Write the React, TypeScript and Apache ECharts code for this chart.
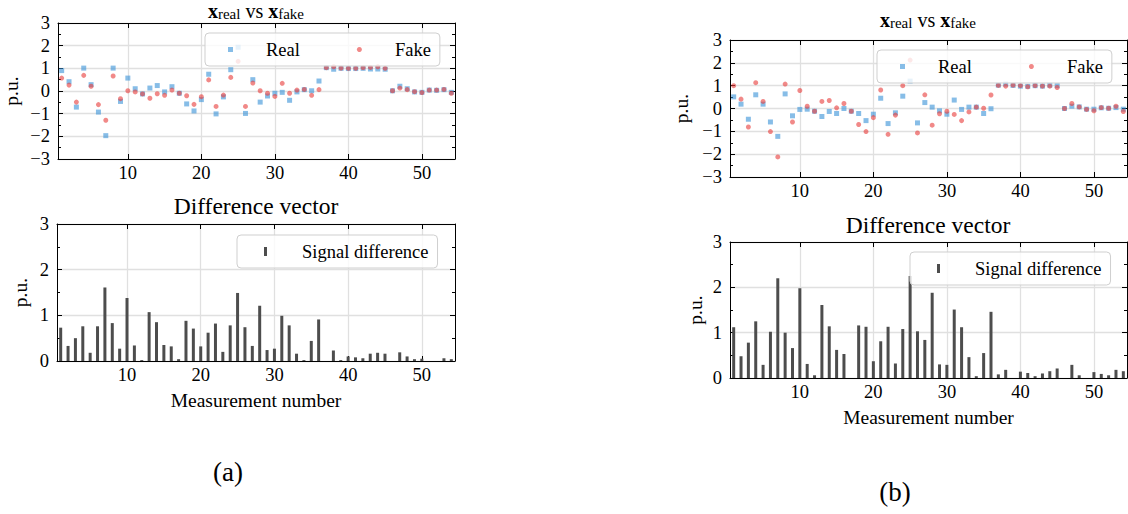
import { useEffect, useRef } from 'react';
import * as echarts from 'echarts';

// Measurement indices shared by every panel
const measurements = [
  1, 2, 3, 4, 5, 6, 7, 8, 9, 10, 11, 12, 13, 14, 15, 16, 17, 18, 19, 20,
  21, 22, 23, 24, 25, 26, 27, 28, 29, 30, 31, 32, 33, 34, 35, 36, 37, 38, 39, 40,
  41, 42, 43, 44, 45, 46, 47, 48, 49, 50, 51, 52, 53, 54,
];

const xTickValues = [10, 20, 30, 40, 50];

// Panel (a)
const realA = [
  0.90, 0.41, -0.71, 1.01, 0.28, -0.93, -1.97, 1.01, -0.46, 0.57,
  0.10, -0.13, 0.13, 0.24, -0.04, 0.19, -0.10, -0.57, -0.88, -0.38,
  0.74, -1.01, -0.26, 0.94, 1.93, -0.99, 0.50, -0.49, -0.22, -0.10,
  -0.06, -0.41, -0.04, 0.06, 0.01, 0.44, 1.03, 0.96, 1.00, 0.99,
  0.99, 1.00, 0.97, 0.97, 0.96, 0.01, 0.21, 0.10, -0.04, -0.06,
  0.04, 0.03, 0.06, -0.06,
];
const fakeA = [
  0.57, 0.26, -0.49, 0.69, 0.21, -0.60, -1.29, 0.66, -0.34, 0.01,
  -0.04, -0.13, -0.32, -0.12, -0.19, 0.04, -0.10, -0.21, -0.59, -0.25,
  0.49, -0.68, -0.18, 0.60, 1.31, -0.68, 0.35, 0.01, -0.10, -0.24,
  0.34, -0.10, 0.04, 0.07, -0.19, 0.06, 1.03, 1.07, 1.01, 1.00,
  1.00, 1.03, 1.04, 1.07, 1.00, 0.01, 0.13, 0.06, -0.03, -0.07,
  0.04, 0.04, 0.07, -0.10,
];
const diffA = [
  0.73, 0.33, 0.50, 0.76, 0.18, 0.76, 1.61, 0.83, 0.27, 1.38,
  0.34, 0.02, 1.07, 0.85, 0.35, 0.32, 0.04, 0.88, 0.71, 0.32,
  0.62, 0.82, 0.20, 0.78, 1.49, 0.74, 0.33, 1.21, 0.24, 0.27,
  0.99, 0.78, 0.16, 0.02, 0.44, 0.91, 0.00, 0.23, 0.02, 0.10,
  0.08, 0.06, 0.16, 0.18, 0.16, 0.00, 0.19, 0.10, 0.04, 0.05,
  0.00, 0.00, 0.06, 0.04,
];

// Panel (b)
const realB = [
  0.51, 0.19, -0.47, 0.60, 0.19, -0.59, -1.22, 0.64, -0.32, -0.04,
  -0.03, -0.12, -0.35, -0.13, -0.22, 0.00, -0.12, -0.22, -0.53, -0.25,
  0.45, -0.66, -0.19, 0.54, 1.20, -0.63, 0.26, 0.06, -0.10, -0.25,
  0.37, -0.04, 0.06, 0.06, -0.22, -0.01, 1.02, 1.07, 1.01, 0.98,
  0.97, 1.00, 0.98, 1.02, 1.00, 0.00, 0.10, 0.07, -0.03, -0.03,
  0.03, 0.01, 0.04, -0.03,
];
const fakeB = [
  1.00, 0.41, -0.81, 1.13, 0.31, -1.01, -2.12, 1.07, -0.59, 0.79,
  0.10, -0.12, 0.31, 0.35, 0.03, 0.22, -0.12, -0.70, -1.01, -0.40,
  0.81, -1.13, -0.29, 1.00, 2.12, -1.07, 0.60, -0.73, -0.23, -0.12,
  -0.26, -0.53, -0.15, 0.06, 0.01, 0.59, 1.01, 0.98, 1.02, 1.00,
  0.95, 1.00, 0.98, 0.98, 0.92, 0.00, 0.22, 0.07, -0.04, -0.10,
  0.04, 0.01, 0.10, -0.13,
];
const diffB = [
  1.12, 0.48, 0.78, 1.25, 0.29, 1.02, 2.20, 1.00, 0.66, 1.98,
  0.31, 0.06, 1.61, 1.14, 0.62, 0.53, 0.00, 1.16, 1.13, 0.37,
  0.81, 1.13, 0.32, 1.08, 2.25, 1.03, 0.84, 1.88, 0.30, 0.29,
  1.51, 1.12, 0.46, 0.04, 0.55, 1.46, 0.08, 0.18, 0.00, 0.14,
  0.11, 0.04, 0.10, 0.15, 0.21, 0.00, 0.29, 0.06, 0.00, 0.13,
  0.09, 0.06, 0.18, 0.15,
];

const FONT = '"Liberation Serif", "Times New Roman", serif';
const TICK_FONT = 18.5;
const GRID_LINE = '#e0e0e0';
const REAL_COLOR = '#3d95d8';
const FAKE_COLOR = '#e8403f';
const BAR_COLOR = '#4d4d4d';

type Panel = {
  grid: { left: number; top: number; width: number; height: number };
  yMin: number;
  yMax: number;
  yNameGap: number;
  xName: string;
};

const panels: Panel[] = [
  { grid: { left: 57, top: 23, width: 398, height: 136 }, yMin: -3, yMax: 3, yNameGap: 37, xName: '' },
  { grid: { left: 57, top: 224, width: 398, height: 137 }, yMin: 0, yMax: 3, yNameGap: 27, xName: 'Measurement number' },
  { grid: { left: 730, top: 40, width: 397, height: 137 }, yMin: -3, yMax: 3, yNameGap: 39, xName: '' },
  { grid: { left: 730, top: 242, width: 397, height: 136 }, yMin: 0, yMax: 3, yNameGap: 25, xName: 'Measurement number' },
];

const pairs = (ys: number[]) => measurements.map((m, i) => [m, ys[i]]);

const minusSign = (v: number) => String(v).replace('-', '\u2212');

function buildOption() {
  const xAxes: any[] = [];
  const yAxes: any[] = [];
  panels.forEach((p, i) => {
    const frame = { show: true, onZero: false, lineStyle: { color: '#000', width: 1 } };
    xAxes.push({
      gridIndex: i,
      type: 'value',
      min: 0.5,
      max: 54.5,
      position: 'bottom',
      axisLine: frame,
      axisTick: { show: true, inside: true, length: 5, customValues: xTickValues, lineStyle: { color: '#000' } },
      axisLabel: { show: true, customValues: xTickValues, margin: 4, color: '#000', fontFamily: FONT, fontSize: TICK_FONT },
      splitLine: { show: true, lineStyle: { color: GRID_LINE, width: 1.3 } },
      name: p.xName,
      nameLocation: 'middle',
      nameGap: 29,
      nameTextStyle: { color: '#000', fontFamily: FONT, fontSize: 19.5 },
    });
    xAxes.push({
      gridIndex: i,
      type: 'value',
      min: 0.5,
      max: 54.5,
      position: 'top',
      axisLine: frame,
      axisTick: { show: true, inside: true, length: 5, customValues: xTickValues, lineStyle: { color: '#000' } },
      axisLabel: { show: false },
      splitLine: { show: false },
    });
    yAxes.push({
      gridIndex: i,
      type: 'value',
      min: p.yMin,
      max: p.yMax,
      interval: 1,
      position: 'left',
      axisLine: frame,
      axisTick: { show: true, inside: true, length: 5, lineStyle: { color: '#000' } },
      minorTick: { show: true, splitNumber: 2, length: 3, lineStyle: { color: '#000' } },
      axisLabel: { margin: 8, color: '#000', fontFamily: FONT, fontSize: TICK_FONT, formatter: minusSign },
      splitLine: { show: true, lineStyle: { color: GRID_LINE, width: 1.3 } },
      name: 'p.u.',
      nameLocation: 'middle',
      nameGap: p.yNameGap,
      nameTextStyle: { color: '#000', fontFamily: FONT, fontSize: 19.5 },
    });
    yAxes.push({
      gridIndex: i,
      type: 'value',
      min: p.yMin,
      max: p.yMax,
      interval: 1,
      position: 'right',
      axisLine: frame,
      axisTick: { show: true, inside: true, length: 5, lineStyle: { color: '#000' } },
      minorTick: { show: true, splitNumber: 2, length: 3, lineStyle: { color: '#000' } },
      axisLabel: { show: false },
      splitLine: { show: false },
    });
  });

  const scatter = (name: string, panel: number, ys: number[]) => ({
    type: 'scatter',
    name,
    xAxisIndex: panel * 2,
    yAxisIndex: panel * 2,
    data: pairs(ys),
    symbol: name === 'Real' ? 'rect' : 'circle',
    symbolSize: 5,
    itemStyle: { color: name === 'Real' ? REAL_COLOR : FAKE_COLOR, opacity: 0.62 },
  });

  const bars = (panel: number, ys: number[]) => ({
    type: 'bar',
    name: 'Signal difference',
    xAxisIndex: panel * 2,
    yAxisIndex: panel * 2,
    data: pairs(ys),
    barWidth: 3,
    itemStyle: { color: BAR_COLOR },
  });

  const legendBase = {
    orient: 'horizontal',
    backgroundColor: 'rgba(255,255,255,0.8)',
    borderColor: '#cfcfcf',
    borderWidth: 1,
    borderRadius: 4,
    selectedMode: false,
    textStyle: { color: '#000', fontFamily: FONT, fontSize: 18.5, padding: [0, 0, 0, 28] },
  };

  const scatterLegend = (left: number, top: number) => ({
    ...legendBase,
    left,
    top,
    itemWidth: 5,
    itemHeight: 5,
    itemGap: 57,
    padding: [7, 9, 7, 23],
    data: [
      { name: 'Real', icon: 'rect' },
      { name: 'Fake', icon: 'circle' },
    ],
  });

  const barLegend = (left: number, top: number) => ({
    ...legendBase,
    left,
    top,
    itemWidth: 3,
    itemHeight: 9,
    padding: [7, 9, 7, 27],
    textStyle: { ...legendBase.textStyle, padding: [0, 0, 0, 30] },
    data: [{ name: 'Signal difference', icon: 'rect' }],
  });

  // Bold vector symbols with subscripts, as in x_real vs x_fake
  const titleRich = {
    b: { fontFamily: FONT, fontSize: 20, fontWeight: 'bold', lineHeight: 16, verticalAlign: 'bottom', color: '#000' },
    n: { fontFamily: FONT, fontSize: 20, lineHeight: 16, verticalAlign: 'bottom', color: '#000' },
    s: { fontFamily: FONT, fontSize: 15, lineHeight: 8, verticalAlign: 'bottom', color: '#000' },
  };
  const vecTitle = (x: number, y: number) => ({
    type: 'text',
    x,
    y,
    style: {
      text: '{b|x}{s|real}{n| vs }{b|x}{s|fake}',
      rich: titleRich,
      align: 'center',
      verticalAlign: 'middle',
    },
  });
  const plainText = (text: string, x: number, y: number, size: number) => ({
    type: 'text',
    x,
    y,
    style: {
      text,
      fontFamily: FONT,
      fontSize: size,
      fill: '#000',
      align: 'center',
      verticalAlign: 'middle',
    },
  });

  return {
    animation: false,
    backgroundColor: '#ffffff',
    grid: panels.map((p) => ({ ...p.grid, containLabel: false })),
    xAxis: xAxes,
    yAxis: yAxes,
    legend: [scatterLegend(205, 33), barLegend(237, 235), scatterLegend(877, 50), barLegend(910, 252)],
    series: [
      scatter('Real', 0, realA),
      scatter('Fake', 0, fakeA),
      bars(1, diffA),
      scatter('Real', 2, realB),
      scatter('Fake', 2, fakeB),
      bars(3, diffB),
    ],
    graphic: [
      vecTitle(256, 13),
      vecTitle(928, 22),
      plainText('Difference vector', 256, 206, 23.5),
      plainText('Difference vector', 928, 225, 23.5),
      plainText('(a)', 228, 472, 27),
      plainText('(b)', 895, 492, 27),
    ],
  };
}

export default function App() {
  const ref = useRef<HTMLDivElement>(null);
  useEffect(() => {
    if (!ref.current) return;
    const chart = echarts.init(ref.current, null, { renderer: 'svg' });
    chart.setOption(buildOption() as any);
    return () => chart.dispose();
  }, []);
  return (
    <div
      ref={ref}
      style={{ position: 'absolute', left: 0, top: 0, width: 1128, height: 514 }}
    />
  );
}
